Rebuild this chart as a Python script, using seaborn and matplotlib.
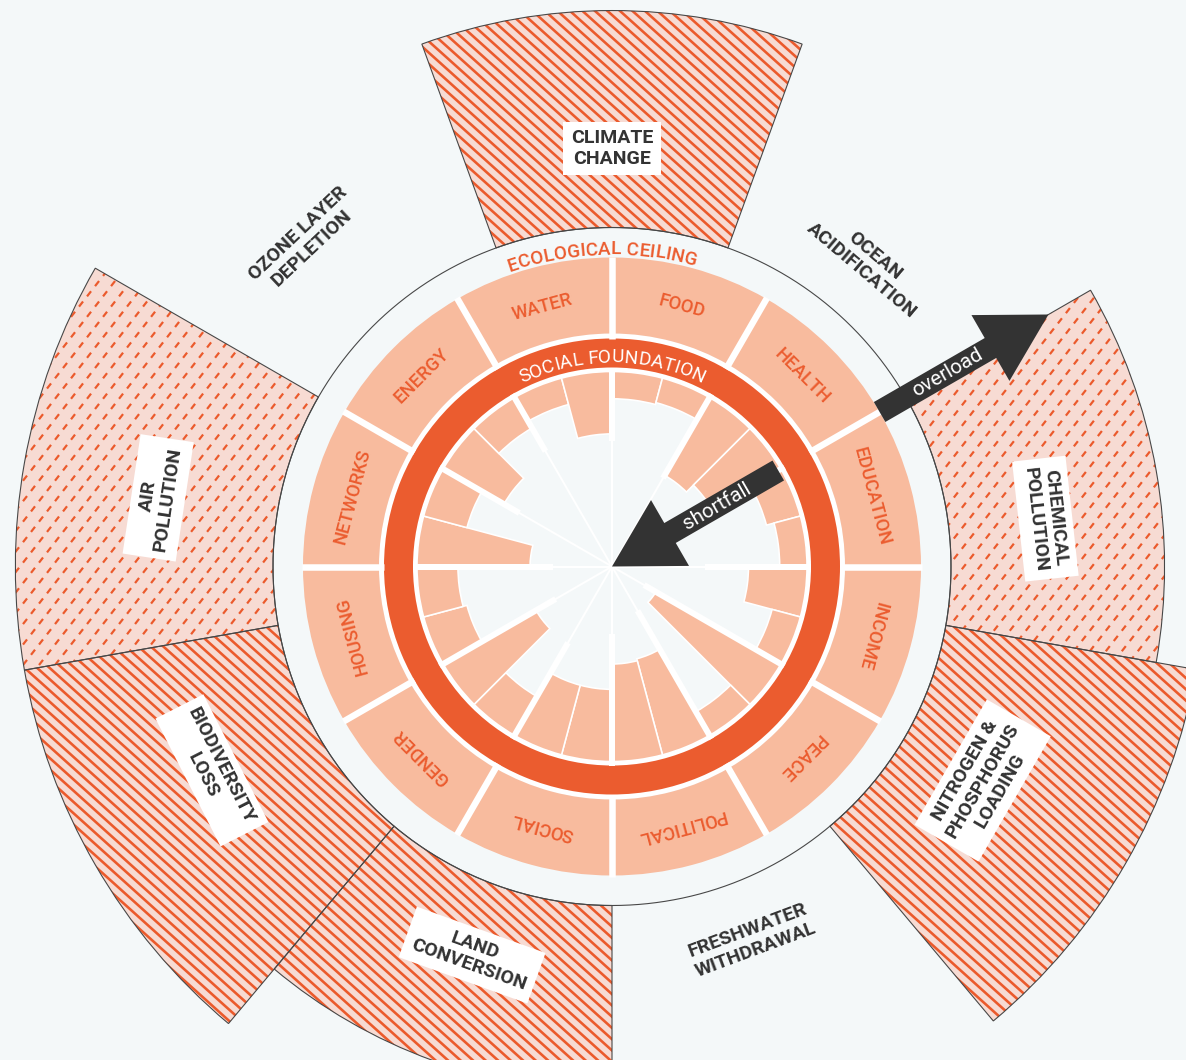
import numpy as np
import pandas as pd
import seaborn as sns
import matplotlib
matplotlib.use("Agg")
import matplotlib.pyplot as plt
from matplotlib.path import Path
from matplotlib.patches import FancyArrowPatch, ArrowStyle
from matplotlib.font_manager import FontProperties, findfont, get_font

# canvas in pixels
W, H, DPI = 1186, 1060, 100
PX = 72 / DPI  # points per pixel

sns.set_theme(style="white")
plt.rcParams['font.family'] = ['Roboto', 'DejaVu Sans']
plt.rcParams['lines.scale_dashes'] = False

BG = '#f4f8f9'
SALMON = '#f8bb9e'
ORANGE = '#eb5c2f'
PINK = '#f7dbd3'
HATCH = '#eb5a2c'
DARK = '#333333'
EDGE = '#474747'

# ---------------- data ----------------
# social foundation: 12 dimensions, clockwise from the top
social_dims = ['FOOD', 'HEALTH', 'EDUCATION', 'INCOME', 'PEACE', 'POLITICAL',
               'SOCIAL', 'GENDER', 'HOUSING', 'NETWORKS', 'ENERGY', 'WATER']
# shortfall (% below the foundation), two indicators per dimension
shortfall = [14, 13, 46, 41, 18, 14, 30, 15, 74, 14, 51, 50,
             37, 37, 23, 55, 23, 21, 58, 23, 36, 18, 14, 32]

# ecological ceiling: 9 planetary boundaries, clockwise from the top
eco_dims = ['CLIMATE\nCHANGE', 'OCEAN\nACIDIFICATION', 'CHEMICAL\nPOLLUTION',
            'NITROGEN &\nPHOSPHORUS\nLOADING', 'FRESHWATER\nWITHDRAWAL',
            'LAND\nCONVERSION', 'BIODIVERSITY\nLOSS', 'AIR\nPOLLUTION',
            'OZONE LAYER\nDEPLETION']
overshoot = [64, 0, 63, 75, 0, 55, 76, 76, 0]   # % beyond the ceiling
eco_pattern = ['stripe', None, 'dash', 'stripe', None, 'stripe', 'stripe', 'dash', None]

# ---------------- layout (pixels) ----------------
R_FOUND = 195
R_RING = (199, 228)
R_SOC = (233, 309)
R_CEIL = 339
spoke_start = [126, 102, 140, 93, 37, 51, 67, 88, 65, 59, 107, 133]
eco_label_pos = [(418, 0), (397, 40.2), (436, 83.7), (428, 120), (399, 159.5),
                 (413, 199.8), (449, 243), (459, 278.6), (448, 316.7)]

fig = plt.figure(figsize=(W / DPI, H / DPI), dpi=DPI, facecolor=BG)
CX, CY = 612, 566.5
RMAX = 640
ax = fig.add_axes([(CX - RMAX) / W, (H - CY - RMAX) / H, 2 * RMAX / W, 2 * RMAX / H],
                  projection='polar')
ax.set_theta_zero_location('N')
ax.set_theta_direction(-1)
ax.set_ylim(0, RMAX)
ax.set_axis_off()

rad = np.deg2rad


def wedge_path(r_in, r_out, cw0, cw1):
    # dense outline of an annular sector in (theta, r)
    t = rad(np.linspace(cw0, cw1, 200))
    verts = np.vstack([np.column_stack([t, np.full_like(t, r_out)]),
                       np.column_stack([t[::-1], np.full_like(t, r_in)]),
                       [[t[0], r_out]]])
    return Path(verts, closed=True)


def add_hatch(r_in, r_out, cw0, cw1, kind):
    clip = wedge_path(r_in, r_out, cw0, cw1)
    ang = rad(np.linspace(cw0, cw1, 60))
    xs = np.concatenate([r_in * np.sin(ang), r_out * np.sin(ang)])
    ys = np.concatenate([r_in * np.cos(ang), r_out * np.cos(ang)])
    x0, x1, y0, y1 = xs.min() - 5, xs.max() + 5, ys.min() - 5, ys.max() + 5
    if kind == 'stripe':
        m, sp, lw = np.tan(rad(-42)), 12.5, 2.6
    else:
        m, sp, lw = np.tan(rad(52)), 16.0, 2.2
    dc = sp * abs(m)
    cs = [yy - m * xx for xx in (x0, x1) for yy in (y0, y1)]
    for k in range(int(np.floor(min(cs) / dc)), int(np.ceil(max(cs) / dc)) + 1):
        c = k * dc
        if kind == 'stripe':
            lx = np.array([x0, x1])
            ly = m * lx + c
        else:
            ly = np.array([-700.0, 700.0])
            lx = (ly - c) / m
        ln, = ax.plot(np.arctan2(lx, ly), np.hypot(lx, ly), color=HATCH,
                      lw=lw * PX, solid_capstyle='butt', dash_capstyle='butt', zorder=1.5)
        if kind == 'dash':
            ln.set_dashes((6.5 * PX, 6.5 * PX))
        ln.set_clip_path(clip, ax.transData)


# ---- ecological overshoot wedges ----
eco_df = pd.DataFrame({'dim': eco_dims, 'overshoot': overshoot, 'pattern': eco_pattern})
eco_df['cw'] = np.arange(len(eco_df)) * 40
eco_df['r_out'] = R_CEIL * (1 + eco_df['overshoot'] / 100)

for _, row in eco_df.iterrows():
    if row['overshoot'] <= 0:
        continue
    th = rad(row['cw'])
    hgt = row['r_out'] - R_CEIL
    ax.bar(th, hgt, width=rad(40), bottom=R_CEIL, color=PINK, linewidth=0, zorder=1)
    add_hatch(R_CEIL, row['r_out'], row['cw'] - 20, row['cw'] + 20, row['pattern'])
    ax.bar(th, hgt, width=rad(40), bottom=R_CEIL, fill=False, edgecolor=EDGE,
           linewidth=1.1 * PX, zorder=2)

circ = np.linspace(0, 2 * np.pi, 721)
ax.plot(circ, np.full_like(circ, R_CEIL), color=EDGE, lw=1.1 * PX, zorder=2)

# ---- social foundation rings ----
ax.bar(0, R_SOC[0], width=2 * np.pi, bottom=0, color='white', linewidth=0, zorder=3)
soc_theta = rad(np.arange(12) * 30 + 15)
ax.bar(soc_theta, R_SOC[1] - R_SOC[0], width=rad(30), bottom=R_SOC[0],
       color=SALMON, linewidth=0, zorder=4)
for b in np.arange(12) * 30:
    ax.plot([rad(b)] * 2, [R_RING[1], R_SOC[1] + 1], color='white', lw=6.5 * PX,
            solid_capstyle='butt', zorder=5)
ax.bar(0, R_RING[1] - R_RING[0], width=2 * np.pi, bottom=R_RING[0], color=ORANGE,
       linewidth=0, zorder=4)
ax.bar(0, R_FOUND, width=2 * np.pi, bottom=0, color=BG, linewidth=0, zorder=4)

# shortfall bars
inner = R_FOUND * (1 - np.array(shortfall) / 100)
sub_theta = rad(np.arange(24) * 15 + 7.5)
ax.bar(sub_theta, R_FOUND - inner, width=rad(15), bottom=inner, color=SALMON,
       edgecolor='white', linewidth=1.6 * PX, zorder=5)

for b, s in zip(np.arange(12) * 30, spoke_start):
    ax.plot([rad(b)] * 2, [0, R_FOUND], color='white', lw=2 * PX, solid_capstyle='butt', zorder=6)
    ax.plot([rad(b)] * 2, [s, R_RING[0]], color='white', lw=6 * PX, solid_capstyle='butt', zorder=6)

# sector labels
for name, th in zip(social_dims, soc_theta):
    cw = np.rad2deg(th)
    ax.text(th, 269, name, rotation=-cw, rotation_mode='anchor', ha='center', va='center',
            color=ORANGE, fontsize=18.5 * PX, fontweight='medium', zorder=7)


# ---- curved labels ----
def arc_text(s, r, size_px, color, weight='normal', center=0.0):
    size_pt = size_px * PX
    fp = FontProperties(family=plt.rcParams['font.family'], size=size_pt, weight=weight)
    font = get_font(findfont(fp))
    font.set_size(size_pt, DPI)
    advs = [font.load_char(ord(ch)).linearHoriAdvance / 65536 for ch in s]
    pos = -sum(advs) / 2
    for ch, a in zip(s, advs):
        cw = center + np.rad2deg((pos + a / 2) / r)
        ax.text(rad(cw), r, ch, rotation=-cw, rotation_mode='anchor', ha='center',
                va='baseline', fontsize=size_pt, color=color, fontweight=weight, zorder=8)
        pos += a


arc_text('ECOLOGICAL CEILING', 312, 19, ORANGE, 'medium', center=-1.8)
arc_text('SOCIAL FOUNDATION', 204, 19, 'white')


# ---- arrows ----
def block_arrow(r0, r1, text, r_text):
    arr = FancyArrowPatch((rad(60), r0), (rad(60), r1),
                          arrowstyle=ArrowStyle.Simple(head_length=67 * PX, head_width=76 * PX,
                                                       tail_width=23 * PX),
                          mutation_scale=1, shrinkA=0, shrinkB=0, transform=ax.transData,
                          color=DARK, linewidth=0, zorder=9)
    ax.add_patch(arr)
    ax.text(rad(60), r_text, text, rotation=30, rotation_mode='anchor', ha='center',
            va='center', color='white', fontsize=20.5 * PX, zorder=10)


block_arrow(309, 504, 'overload', 387)
block_arrow(192, 0, 'shortfall', 121)

# ---- planetary boundary labels ----
for (_, row), (r, cw) in zip(eco_df.iterrows(), eco_label_pos):
    rot = ((-cw + 90) % 180) - 90
    box = dict(boxstyle='square,pad=0.4', fc='white', ec='none') if row['overshoot'] > 0 else None
    ax.text(rad(cw), r, row['dim'], rotation=rot, rotation_mode='anchor', ha='center',
            va='center', multialignment='center', color=DARK, fontsize=19.5 * PX,
            fontweight='bold', linespacing=1.15, bbox=box, zorder=8)

fig.savefig('out.png', dpi=DPI, facecolor=BG)
